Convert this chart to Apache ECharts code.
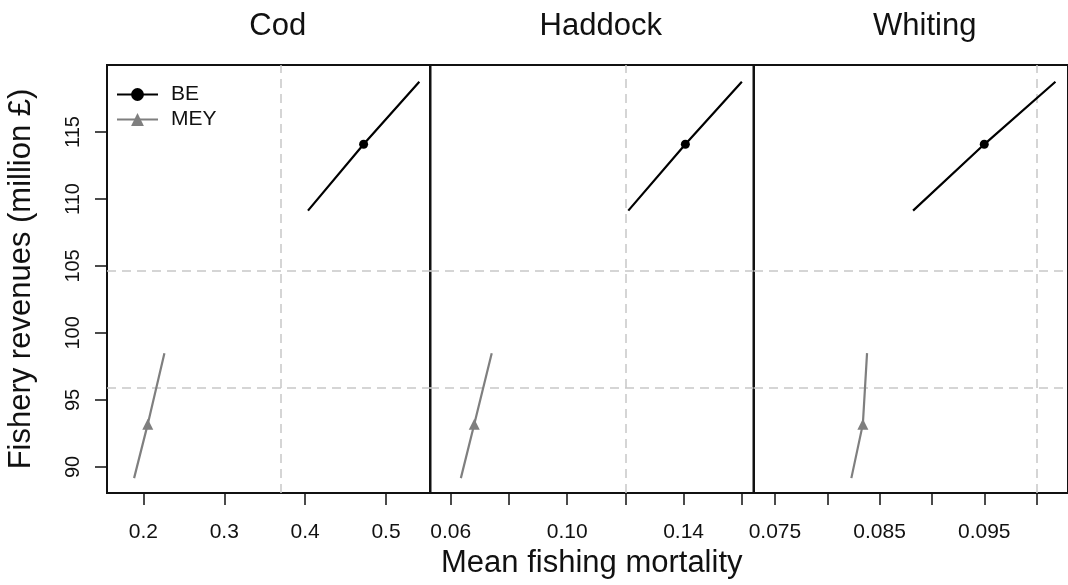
<!DOCTYPE html>
<html lang="en">
<head>
  <meta charset="UTF-8">
  <title>Fishery revenues</title>
  <script src="https://cdn.jsdelivr.net/npm/echarts@6/dist/echarts.min.js"></script>
</head>
<body style="margin:0">
  <div id="main" style="width:1068px;height:585px"></div>
  <script>
    // revenues (million £): low end, point, high end
    var beRevenue = [109.13, 114.08, 118.75]
    var meyRevenue = [89.16, 93.19, 98.49]
    // mean fishing mortality per species
    var species = ['Cod', 'Haddock', 'Whiting']
    var beF = [
      [0.4035, 0.4723, 0.5412],
      [0.121, 0.1406, 0.16],
      [0.0882, 0.0950, 0.1018]
    ]
    var meyF = [
      [0.1885, 0.2054, 0.226],
      [0.0635, 0.0681, 0.0741],
      [0.0823, 0.0834, 0.0838]
    ]
    // dashed reference lines
    var refRevenue = [104.63, 95.87]
    var refF = [0.3713, 0.115, 0.0987]
    // axes
    var yTicks = [90, 95, 100, 105, 110, 115]
    var xTicks = [
      [0.2, 0.3, 0.4, 0.5],
      [0.06, 0.08, 0.10, 0.12, 0.14, 0.16],
      [0.075, 0.080, 0.085, 0.090, 0.095, 0.100]
    ]
    var xLabels = [
      ['0.2', '0.3', '0.4', '0.5'],
      ['0.06', '', '0.10', '', '0.14', ''],
      ['0.075', '', '0.085', '', '0.095', '']
    ]
    var xRange = [[0.155, 0.555], [0.0529, 0.164], [0.0730, 0.1030]]

    var font = 'Liberation Sans, Arial, sans-serif'
    var panelLeft = [107, 430, 754]
    var panelW = 323.5

    function pts(xs, ys) {
      return xs.map(function (x, i) {
        return i === 1 ? { value: [x, ys[i]] } : { value: [x, ys[i]], symbol: 'none' }
      })
    }

    var grids = [], xAxes = [], yAxes = [], series = [], titles = []
    species.forEach(function (sp, k) {
      grids.push({
        left: panelLeft[k], top: 65, width: panelW, height: 428,
        show: true, borderColor: '#111', borderWidth: 2, backgroundColor: 'transparent'
      })
      titles.push({
        text: sp, left: panelLeft[k] + panelW / 2 + 4, top: 6, textAlign: 'center',
        textStyle: { fontFamily: font, fontSize: 31, fontWeight: 'normal', color: '#111' }
      })
      xAxes.push({
        type: 'value', gridIndex: k, min: xRange[k][0], max: xRange[k][1],
        axisLine: { show: false },
        splitLine: { show: false },
        axisTick: { show: true, length: 12, customValues: xTicks[k], lineStyle: { color: '#111', width: 1.5 } },
        axisLabel: {
          customValues: xTicks[k], margin: 29, fontFamily: font, fontSize: 21, color: '#111',
          formatter: function (v) {
            var i = xTicks[k].findIndex(function (t) { return Math.abs(t - v) < 1e-9 })
            return i >= 0 ? xLabels[k][i] : ''
          }
        },
        name: k === 1 ? 'Mean fishing mortality' : '',
        nameLocation: 'middle', nameGap: 49,
        nameTextStyle: { fontFamily: font, fontSize: 31, color: '#111' }
      })
      yAxes.push({
        type: 'value', gridIndex: k, min: 88.05, max: 120,
        axisLine: { show: false },
        splitLine: { show: false },
        axisTick: { show: k === 0, length: 12, customValues: yTicks, lineStyle: { color: '#111', width: 1.5 } },
        axisLabel: { show: k === 0, customValues: yTicks, rotate: 90, margin: 24, fontFamily: font, fontSize: 20, color: '#111' },
        name: k === 0 ? 'Fishery revenues (million £)' : '',
        nameLocation: 'middle', nameGap: 70, nameRotate: 90,
        nameTextStyle: { fontFamily: font, fontSize: 31, color: '#111' }
      })
      var dash = { color: '#c8c8c8', type: [9, 6], width: 1.5 }
      series.push({
        name: 'BE', type: 'line', xAxisIndex: k, yAxisIndex: k,
        data: pts(beF[k], beRevenue), symbol: 'circle', symbolSize: 9, showAllSymbol: true,
        lineStyle: { color: '#000', width: 2.2 }, itemStyle: { color: '#000' },
        z: 3, animation: false,
        markLine: {
          silent: true, symbol: 'none', label: { show: false }, lineStyle: dash, z: 1,
          data: refRevenue.map(function (v) { return { yAxis: v } }).concat([{ xAxis: refF[k] }])
        }
      })
      series.push({
        name: 'MEY', type: 'line', xAxisIndex: k, yAxisIndex: k,
        data: pts(meyF[k], meyRevenue), symbol: 'triangle', symbolSize: 11, showAllSymbol: true,
        lineStyle: { color: '#7f7f7f', width: 2.2 }, itemStyle: { color: '#7f7f7f' },
        z: 3, animation: false
      })
    })

    var chart = echarts.init(document.getElementById('main'))
    chart.setOption({
      backgroundColor: '#fff',
      animation: false,
      title: titles,
      legend: {
        data: ['BE', 'MEY'], orient: 'vertical', left: 111, top: 79,
        itemWidth: 41, itemHeight: 16, itemGap: 4,
        textStyle: { fontFamily: font, fontSize: 21, color: '#111', padding: [0, 0, 0, 8] }
      },
      grid: grids,
      xAxis: xAxes,
      yAxis: yAxes,
      series: series
    })
  </script>
</body>
</html>
